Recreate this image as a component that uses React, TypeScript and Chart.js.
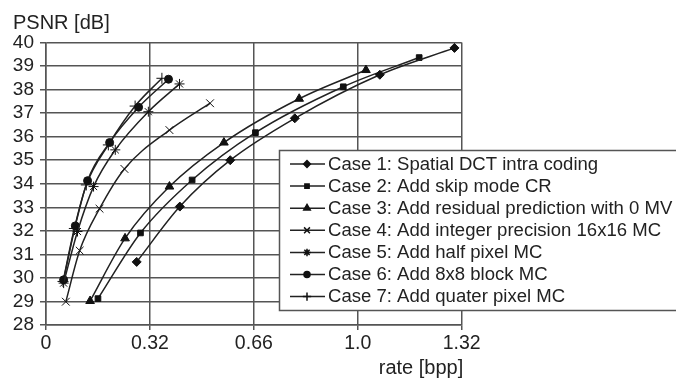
import React, { useEffect, useRef } from 'react';
import { Chart, registerables } from 'chart.js';
import { drawPoint } from 'chart.js/helpers';

Chart.register(...registerables);

const FONT = '"Liberation Sans", Arial, sans-serif';

const seriesNames = [
  'Case 1: Spatial DCT intra coding',
  'Case 2: Add skip mode CR',
  'Case 3: Add residual prediction with 0 MV',
  'Case 4: Add integer precision 16x16 MC',
  'Case 5: Add half pixel MC',
  'Case 6: Add 8x8 block MC',
  'Case 7: Add quater pixel MC',
];

const case1Rate = [0.288, 0.425, 0.585, 0.79, 1.06, 1.297];
const case1Psnr = [30.68, 33.03, 35.0, 36.78, 38.63, 39.77];
const case2Rate = [0.165, 0.30, 0.464, 0.665, 0.944, 1.185];
const case2Psnr = [29.12, 31.91, 34.16, 36.17, 38.12, 39.36];
const case3Rate = [0.14, 0.251, 0.392, 0.565, 0.804, 1.016];
const case3Psnr = [29.02, 31.68, 33.88, 35.75, 37.61, 38.83];
const case4Rate = [0.063, 0.107, 0.17, 0.249, 0.392, 0.521];
const case4Psnr = [28.99, 31.16, 32.94, 34.63, 36.28, 37.42];
const case5Rate = [0.056, 0.1, 0.151, 0.22, 0.325, 0.424];
const case5Psnr = [29.78, 31.97, 33.88, 35.44, 37.06, 38.24];
const case6Rate = [0.056, 0.093, 0.132, 0.202, 0.294, 0.389];
const case6Psnr = [29.92, 32.21, 34.13, 35.75, 37.25, 38.44];
const case7Rate = [0.054, 0.09, 0.128, 0.198, 0.283, 0.368];
const case7Psnr = [29.85, 32.1, 33.95, 35.65, 37.3, 38.48];

const xTickValues = [0, 0.33, 0.66, 0.99, 1.32];
const xTickLabels = ['0', '0.32', '0.66', '1.0', '1.32'];
const yMin = 28;
const yMax = 40;

const pointStyles = ['rectRot', 'rect', 'triangle', 'crossRot', 'star', 'circle', 'cross'];
const pointRadii = [4.5, 4, 5, 5.5, 5, 4, 5.5];

const rates = [case1Rate, case2Rate, case3Rate, case4Rate, case5Rate, case6Rate, case7Rate];
const psnrs = [case1Psnr, case2Psnr, case3Psnr, case4Psnr, case5Psnr, case6Psnr, case7Psnr];

const overlayPlugin = {
  id: 'overlay',
  afterDraw(chart: any) {
    const ctx = chart.ctx as CanvasRenderingContext2D;
    ctx.save();
    // axis titles
    ctx.fillStyle = '#222';
    ctx.font = `20px ${FONT}`;
    ctx.textBaseline = 'alphabetic';
    ctx.textAlign = 'left';
    ctx.fillText('PSNR [dB]', 13, 29);
    ctx.textAlign = 'center';
    ctx.fillText('rate [bpp]', 421, 374);

    // legend box
    ctx.fillStyle = '#fff';
    ctx.fillRect(279, 150, 420, 161);
    ctx.strokeStyle = '#555';
    ctx.lineWidth = 1.5;
    ctx.strokeRect(279.5, 150.5, 420, 160);

    seriesNames.forEach((name, i) => {
      const y = 164 + i * 22.1;
      ctx.strokeStyle = '#222';
      ctx.lineWidth = 1.5;
      ctx.beginPath();
      ctx.moveTo(290, y);
      ctx.lineTo(325, y);
      ctx.stroke();
      ctx.fillStyle = '#111';
      ctx.strokeStyle = '#111';
      drawPoint(ctx, { pointStyle: pointStyles[i], radius: pointRadii[i] * 0.75, borderWidth: 1, rotation: 0 } as any, 307, y);
      ctx.save();
      ctx.translate(328, y);
      ctx.scale(1.06, 1);
      ctx.fillStyle = '#222';
      ctx.font = `17.5px ${FONT}`;
      ctx.textAlign = 'left';
      ctx.textBaseline = 'middle';
      ctx.fillText(name, 0, 1);
      ctx.restore();
    });
    ctx.restore();
  },
};

export default function App() {
  const canvasRef = useRef<HTMLCanvasElement | null>(null);

  useEffect(() => {
    document.body.style.margin = '0';
    const canvas = canvasRef.current;
    if (!canvas) return;
    const datasets = seriesNames.map((name, i) => ({
      label: name,
      data: rates[i].map((x, j) => ({ x, y: psnrs[i][j] })),
      borderColor: '#222',
      borderWidth: 1.5,
      pointStyle: pointStyles[i],
      pointRadius: pointRadii[i],
      pointBackgroundColor: '#111',
      pointBorderColor: '#111',
      pointBorderWidth: 1,
      cubicInterpolationMode: 'monotone',
      fill: false,
    }));
    const chart = new Chart(canvas, {
      type: 'line',
      data: { datasets } as any,
      options: {
        animation: false,
        responsive: false,
        devicePixelRatio: 1,
        layout: { padding: { top: 42.5, right: 214.3, left: 0, bottom: 0 } },
        plugins: { legend: { display: false }, tooltip: { enabled: false } },
        scales: {
          x: {
            type: 'linear',
            min: 0,
            max: 1.32,
            afterBuildTicks: (s: any) => {
              s.ticks = xTickValues.map((v) => ({ value: v }));
            },
            afterFit: (s: any) => {
              s.height = 53;
            },
            ticks: {
              callback: (_v: any, i: number) => xTickLabels[i],
              font: { family: FONT, size: 19.5 },
              color: '#222',
              padding: 2,
              maxRotation: 0,
              autoSkip: false,
            },
            grid: { color: '#555', lineWidth: 1.5, tickLength: 5 },
            border: { display: true, color: '#555', width: 1.5 },
          },
          y: {
            type: 'linear',
            min: yMin,
            max: yMax,
            afterFit: (s: any) => {
              s.width = 46;
            },
            ticks: {
              stepSize: 1,
              autoSkip: false,
              font: { family: FONT, size: 19 },
              color: '#222',
              padding: 6,
            },
            grid: { color: '#555', lineWidth: 1.5, tickLength: 6 },
            border: { display: true, color: '#555', width: 1.5 },
          },
        },
      } as any,
      plugins: [overlayPlugin],
    });
    return () => chart.destroy();
  }, []);

  return (
    <div style={{ width: 676, height: 378, background: '#fff' }}>
      <canvas ref={canvasRef} width={676} height={378} style={{ width: 676, height: 378, display: 'block' }} />
    </div>
  );
}
